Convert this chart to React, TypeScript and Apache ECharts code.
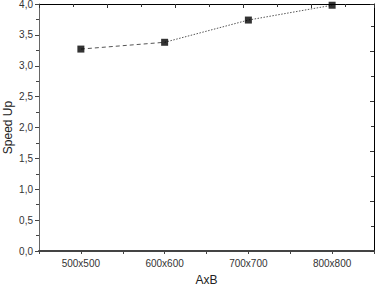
import React, { useEffect, useRef } from "react";
import * as echarts from "echarts";

const categories = [500, 600, 700, 800];
const speedUp = [3.27, 3.38, 3.74, 3.98];
const yTicks = [0, 0.5, 1, 1.5, 2, 2.5, 3, 3.5, 4];

export default function App() {
  const ref = useRef<HTMLDivElement>(null);
  useEffect(() => {
    if (!ref.current) return;
    const chart = echarts.init(ref.current, undefined, { renderer: "svg" });
    const pts = categories.map((c, i) => [c, speedUp[i]]);
    const font = "Liberation Sans, Arial, sans-serif";
    chart.setOption({
      animation: false,
      grid: { left: 39, top: 4, right: 5, bottom: 36, containLabel: false, outerBoundsMode: "none" },
      xAxis: [
        {
          type: "value",
          min: 450,
          max: 850,
          interval: 50,
          position: "bottom",
          name: "AxB",
          nameLocation: "middle",
          nameGap: 23,
          nameTextStyle: { fontFamily: font, fontSize: 12, color: "#222" },
          axisLine: { show: true, lineStyle: { color: "#444", width: 2 } },
          axisTick: { show: true, inside: false, length: 3, lineStyle: { color: "#444" } },
          axisLabel: {
            fontFamily: font,
            fontSize: 10,
            color: "#333",
            margin: 7,
            formatter: (v: number) => (v % 100 === 0 && v >= 500 && v <= 800 ? `${v}x${v}` : ""),
          },
          splitLine: { show: false },
        },
        {
          type: "value",
          min: 0,
          max: 9.85,
          interval: 2,
          position: "top",
          axisLine: { show: true, onZero: false, lineStyle: { color: "#000", width: 1 } },
          axisTick: { show: true, inside: true, length: 4, lineStyle: { color: "#333" } },
          minorTick: { show: true, splitNumber: 2, length: 3, lineStyle: { color: "#333" } },
          axisLabel: { show: false },
          splitLine: { show: false },
        },
      ],
      yAxis: [
        {
          type: "value",
          min: 0,
          max: 4,
          interval: 0.5,
          position: "left",
          name: "Speed Up",
          nameLocation: "middle",
          nameGap: 25,
          nameMoveOverlap: false,
          nameTextStyle: { fontFamily: font, fontSize: 12, color: "#222" },
          axisLine: { show: true, lineStyle: { color: "#666", width: 1 } },
          axisTick: { show: true, inside: false, length: 4, lineStyle: { color: "#444" } },
          minorTick: { show: true, splitNumber: 2, length: 3, lineStyle: { color: "#444" } },
          axisLabel: {
            fontFamily: font,
            fontSize: 10,
            color: "#333",
            margin: 6,
            formatter: (v: number) =>
              yTicks.includes(Math.round(v * 100) / 100) ? v.toFixed(1).replace(".", ",") : "",
          },
          splitLine: { show: false },
        },
        {
          type: "value",
          min: 0,
          max: 9.88,
          interval: 2,
          position: "right",
          axisLine: { show: true, onZero: false, lineStyle: { color: "#000", width: 1 } },
          axisTick: { show: true, inside: true, length: 4, lineStyle: { color: "#333" } },
          minorTick: { show: true, splitNumber: 2, length: 3, lineStyle: { color: "#333" } },
          axisLabel: { show: false },
          splitLine: { show: false },
        },
      ],
      series: [
        {
          type: "line",
          data: pts.slice(0, 2),
          symbol: "none",
          lineStyle: { color: "#555", width: 1, type: [4, 3] },
          z: 2,
        },
        {
          type: "line",
          data: pts.slice(1),
          symbol: "none",
          lineStyle: { color: "#555", width: 1, type: [1.5, 1.5] },
          z: 2,
        },
        {
          type: "scatter",
          data: pts,
          symbol: "rect",
          symbolSize: 7,
          itemStyle: { color: "#000" },
          z: 3,
        },
      ],
    });
    return () => chart.dispose();
  }, []);
  return <div ref={ref} style={{ width: 379, height: 287, position: "absolute", left: 0, top: 0, background: "#fff" }} />;
}
